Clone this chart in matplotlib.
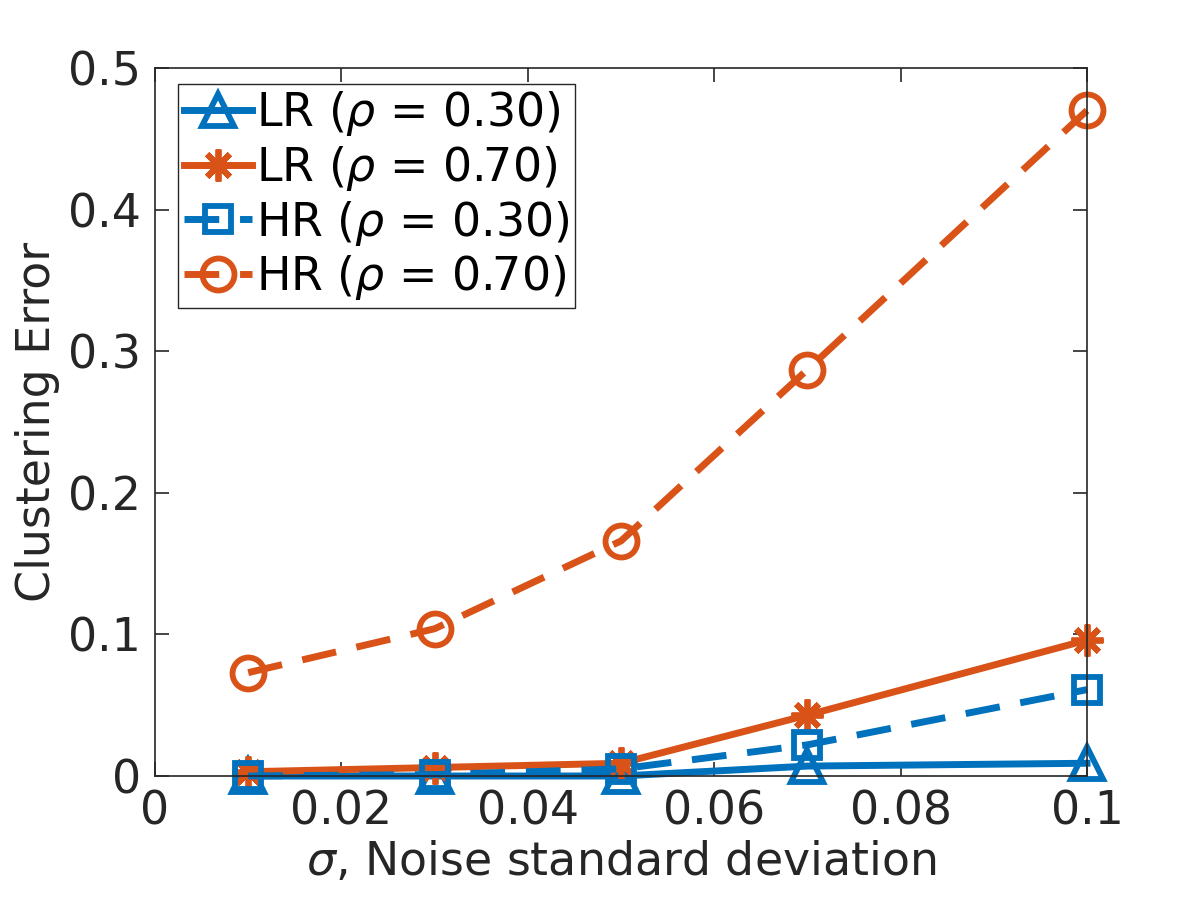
import numpy as np
import matplotlib
matplotlib.use('Agg')
import matplotlib.pyplot as plt

# noise levels
sigma = [0.01, 0.03, 0.05, 0.07, 0.1]

# clustering errors
lr_030 = [0.0, 0.0, 0.0, 0.007, 0.009]
lr_070 = [0.003, 0.006, 0.009, 0.043, 0.096]
hr_030 = [0.0, 0.001, 0.005, 0.022, 0.061]
hr_070 = [0.073, 0.104, 0.166, 0.287, 0.470]

blue = '#0072BD'
orange = '#D95319'

plt.rcParams['font.family'] = 'DejaVu Sans'

fig = plt.figure(figsize=(12, 9), dpi=100)
ax = fig.add_axes([155 / 1200, 1 - 776 / 900, (1087 - 155) / 1200, (776 - 68) / 900])

lw = 5
ms = 23
mew = 4.2
ax.plot(sigma, lr_030, '-', color=blue, lw=lw, marker='^', ms=ms, mew=mew,
        mfc='none', clip_on=False, label=r'LR ($\rho$ = 0.30)')
ax.plot(sigma, lr_070, '-', color=orange, lw=lw, marker=(8, 2, 0), ms=ms, mew=mew,
        mfc='none', clip_on=False, label=r'LR ($\rho$ = 0.70)')
ax.plot(sigma, hr_030, '--', color=blue, lw=lw, marker='s', ms=ms - 4, mew=mew,
        mfc='none', dashes=(5, 3), clip_on=False, label=r'HR ($\rho$ = 0.30)')
ax.plot(sigma, hr_070, '--', color=orange, lw=lw, marker='o', ms=ms, mew=mew,
        mfc='none', dashes=(5, 3), clip_on=False, label=r'HR ($\rho$ = 0.70)')

ax.set_xlim(0, 0.1)
ax.set_ylim(0, 0.5)
ax.set_xticks([0, 0.02, 0.04, 0.06, 0.08, 0.1])
ax.set_xticklabels(['0', '0.02', '0.04', '0.06', '0.08', '0.1'])
ax.set_yticks([0, 0.1, 0.2, 0.3, 0.4, 0.5])
ax.set_yticklabels(['0', '0.1', '0.2', '0.3', '0.4', '0.5'])
ax.tick_params(direction='in', top=True, right=True, labelsize=33, length=10,
               width=1.2, colors='#262626', pad=10)
for s in ax.spines.values():
    s.set_color('#262626')
    s.set_linewidth(1.2)

ax.set_xlabel(r'$\sigma$, Noise standard deviation', fontsize=33, color='#262626',
              labelpad=4)
ax.set_ylabel('Clustering Error', fontsize=33, color='#262626', labelpad=6)

leg = ax.legend(loc='upper left', bbox_to_anchor=(23 / 932, 1 - 16 / 708),
                fontsize=33, fancybox=False, framealpha=1,
                edgecolor='#262626', borderpad=0.12, labelspacing=0.12,
                handlelength=1.5, handletextpad=0.08, borderaxespad=0,
                labelcolor='black')
leg.get_frame().set_linewidth(1.0)

fig.savefig('out.png', dpi=100)
